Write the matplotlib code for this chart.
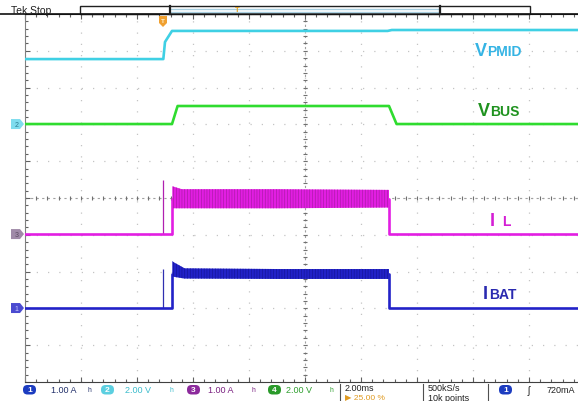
import numpy as np
import matplotlib.pyplot as plt
from matplotlib.patches import Rectangle, FancyBboxPatch, Polygon

plt.rcParams['font.family'] = ['Liberation Sans', 'DejaVu Sans']
plt.rcParams['hatch.linewidth'] = 0.45

W, H = 578, 402

# scope settings (status bar): 2 ms/div, 25 % pre-trigger, 10 x 10 div
t_div = 2.0
t_left = -5.0
scale = {'IBAT': 1.0, 'VPMID': 2.0, 'IL': 1.0, 'VBUS': 2.0}       # A/div, V/div
offset = {'IBAT': -2.99, 'VPMID': 2.01, 'IL': -0.98, 'VBUS': 0.0}  # ground level, div

# traces, time in ms (trigger = 0)
t_vpmid = [-5.0, -0.06, 0.0, 0.25, 7.95, 8.1, 15.0]
vpmid = [3.53, 3.53, 4.46, 5.06, 5.06, 5.11, 5.11]

t_vbus = [-5.0, 0.25, 0.45, 8.0, 8.27, 15.0]
vbus = [4.02, 4.02, 5.0, 5.0, 4.02, 4.02]

t_il = [-5.0, 0.26, 0.26, 8.0, 8.0, 15.0]
il = [0.0, 0.0, 0.95, 0.95, 0.0, 0.0]
t_il_band = [0.26, 0.6, 4.0, 8.0]
il_hi = [1.30, 1.22, 1.22, 1.20]
il_lo = [0.70, 0.70, 0.70, 0.72]
il_spike = (-0.07, 1.47)

t_ibat = [-5.0, 0.26, 0.26, 8.0, 8.0, 15.0]
ibat = [0.0, 0.0, 0.92, 0.92, 0.0, 0.0]
t_ibat_band = [0.26, 0.3, 0.7, 4.0, 8.0]
ibat_hi = [1.28, 1.25, 1.08, 1.06, 1.06]
ibat_lo = [0.95, 0.85, 0.80, 0.79, 0.79]
ibat_spike = (-0.07, 1.06)

c_vpmid = '#3fd0e4'
c_vbus = '#2fdc2f'
c_il = '#e21ee2'
c_ibat = '#2222c8'


def div(vals, ch):
    return np.asarray(vals) / scale[ch] + offset[ch]


fig = plt.figure(figsize=(W / 100, H / 100), dpi=100)
ax = fig.add_axes([25 / W, 1 - 383 / H, 560 / W, 368 / H])
ax.set_xlim(t_left, t_left + 10 * t_div)
ax.set_ylim(-5, 5)

# graticule
for x in np.arange(t_left, t_left + 10 * t_div + 0.1, t_div):
    ax.axvline(x, color='#c4c4c4', lw=0.9, ls=(0, (1, 8)), zorder=0)
for y in range(-5, 6):
    ax.axhline(y, color='#c4c4c4', lw=0.9, ls=(0, (1, 8)), zorder=0)
xc = t_left + 5 * t_div
ax.axvline(xc, color='#a0a0a0', lw=0.8, ls=(0, (2, 3)), zorder=0)
ax.axhline(0, color='#a0a0a0', lw=0.8, ls=(0, (2, 3)), zorder=0)
tx = np.arange(t_left, t_left + 10 * t_div, t_div / 5)
ty = np.arange(-5, 5, 0.2)
ax.plot(tx, np.zeros_like(tx), ls='none', marker='|', ms=3.5, mew=0.8, color='#707070', zorder=0)
ax.plot(np.full_like(ty, xc), ty, ls='none', marker='_', ms=3.5, mew=0.8, color='#707070', zorder=0)

ax.spines['right'].set_visible(False)
ax.spines['left'].set_color('#808080')
ax.spines['top'].set_color('#202020')
ax.spines['bottom'].set_color('#404040')
ax.set_xticks(np.arange(t_left, t_left + 10 * t_div + 0.1, t_div))
ax.set_xticks(tx, minor=True)
ax.set_yticks(range(-5, 6))
ax.set_yticks(ty, minor=True)
ax.tick_params(which='both', direction='in', top=True, labelbottom=False, labelleft=False,
               color='#606060', width=0.8)
ax.tick_params(which='major', length=3.5)
ax.tick_params(which='minor', length=2)

# VPMID, VBUS
ax.plot(t_vpmid, div(vpmid, 'VPMID'), color=c_vpmid, lw=1.9, zorder=3)
ax.plot(t_vbus, div(vbus, 'VBUS'), color=c_vbus, lw=1.9, zorder=3)

# IL
ax.vlines(il_spike[0], offset['IL'], div([il_spike[1]], 'IL'), color='#b020b0', lw=0.9, zorder=3)
ax.plot(t_il, div(il, 'IL'), color=c_il, lw=1.9, zorder=3)
plt.rcParams['hatch.color'] = '#a81aa4'
ax.fill_between(t_il_band, div(il_lo, 'IL'), div(il_hi, 'IL'), facecolor=c_il,
                edgecolor='#a81aa4', hatch='||||||', lw=0, zorder=3)

# IBAT
ax.vlines(ibat_spike[0], offset['IBAT'], div([ibat_spike[1]], 'IBAT'), color='#3030b0', lw=0.9, zorder=3)
ax.plot(t_ibat, div(ibat, 'IBAT'), color=c_ibat, lw=1.9, zorder=3)
plt.rcParams['hatch.color'] = '#141498'
ax.fill_between(t_ibat_band, div(ibat_lo, 'IBAT'), div(ibat_hi, 'IBAT'), facecolor=c_ibat,
                edgecolor='#141498', hatch='||||||', lw=0, zorder=3)

# overlay in pixel coordinates for the scope chrome
ov = fig.add_axes([0, 0, 1, 1])
ov.set_xlim(0, W)
ov.set_ylim(H, 0)
ov.axis('off')

# header
ov.plot([0, W], [15, 15], color='#101010', lw=1.2)
ov.add_patch(Rectangle((80, 7), 450, 8, facecolor='white', edgecolor='#202020', lw=1))
ov.plot([170, 440], [9.6, 9.6], color='#a8cfe0', lw=1)
ov.plot([170, 440], [12.6, 12.6], color='#a8cfe0', lw=1)
ov.plot([170, 170], [7, 15], color='#202020', lw=1.6)
ov.plot([440, 440], [7, 15], color='#202020', lw=1.6)
ov.text(11, 13.5, 'Tek Stop', fontsize=7.5, color='#202020', va='baseline', ha='left')
ov.text(237, 11, 'T', fontsize=5.5, color='#e0a020', va='center', ha='center', fontweight='bold')
ov.add_patch(Polygon([(159, 17), (167, 17), (167, 24), (163, 28), (159, 24)], closed=True,
                     facecolor='#f0a030', edgecolor='none'))
ov.text(163, 21.5, 'T', fontsize=4.5, color='#fff3d0', va='center', ha='center', fontweight='bold')

# channel ground markers
for ch, fc, tc, num in [('VPMID', '#7fdcee', '#2a7a90', '2'), ('IL', '#a08aa8', '#5a4a60', '3'),
                        ('IBAT', '#4b4bd0', '#c8c8ff', '1')]:
    yc = 199 - offset[ch] * 36.8
    ov.add_patch(Polygon([(11, yc - 5), (20, yc - 5), (24, yc), (20, yc + 5), (11, yc + 5)],
                         closed=True, facecolor=fc, edgecolor='none'))
    ov.text(16.5, yc + 0.5, num, fontsize=5, color=tc, va='center', ha='center')


# trace labels
def label(x, y, big, small, color, gap):
    ov.text(x, y, big, fontsize=13, fontweight='bold', color=color, va='baseline', ha='left')
    ov.text(x + gap, y, small, fontsize=10, fontweight='bold', color=color, va='baseline', ha='left')


label(475, 56.5, 'V', 'PMID', '#35b4e4', 12.5)
label(478, 116.5, 'V', 'BUS', '#1f921f', 12.5)
label(490, 226.5, 'I', 'L', '#d41ed4', 12)
label(483, 299.5, 'I', 'BAT', '#2a2ab0', 6.5)


# status bar
def badge(x, color, num):
    ov.add_patch(FancyBboxPatch((x, 386), 13, 9.5, boxstyle='round,pad=0,rounding_size=4.5',
                                facecolor=color, edgecolor='none'))
    ov.text(x + 6.5, 390.8, num, fontsize=6, color='white', va='center', ha='center', fontweight='bold')


badge(23, '#1c3cc0', '1')
ov.text(51, 391, '1.00 A', fontsize=6.5, color='#22306a', va='center')
ov.text(87, 391, 'ʰ', fontsize=7, color='#22306a', va='center')
badge(101, '#5ccfe0', '2')
ov.text(125, 391, '2.00 V', fontsize=6.5, color='#3cbccc', va='center')
ov.text(170, 391, 'ʰ', fontsize=7, color='#3cbccc', va='center')
badge(187, '#8c2a9c', '3')
ov.text(208, 391, '1.00 A', fontsize=6.5, color='#7a2080', va='center')
ov.text(252, 391, 'ʰ', fontsize=7, color='#7a2080', va='center')
badge(268, '#2a9a2a', '4')
ov.text(286, 391, '2.00 V', fontsize=6.5, color='#2e9e2e', va='center')
ov.text(330, 391, 'ʰ', fontsize=7, color='#2e9e2e', va='center')

for xs in [340, 423, 488]:
    ov.plot([xs, xs], [385, 402], color='#505050', lw=0.8)
ov.text(345, 388.5, '2.00ms', fontsize=6.5, color='#202020', va='center')
ov.text(345, 399, '▶ 25.00 %', fontsize=6, color='#e09a20', va='center')
ov.text(428, 388.5, '500kS/s', fontsize=6.5, color='#202020', va='center')
ov.text(428, 399, '10k points', fontsize=6.5, color='#202020', va='center')
badge(499, '#1c3cc0', '1')
ov.text(528, 391, 'ʃ', fontsize=7, color='#202020', va='center')
ov.text(547, 391, '720mA', fontsize=6.5, color='#202020', va='center')

fig.savefig('out.png', dpi=100)
plt.close(fig)
